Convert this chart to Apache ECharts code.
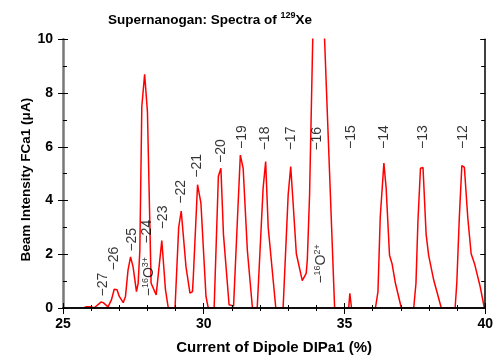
<!DOCTYPE html>
<html>
<head>
<meta charset="utf-8">
<script src="https://cdn.jsdelivr.net/npm/echarts@6/dist/echarts.min.js"></script>
<style>html,body{margin:0;padding:0;background:#fff}#c{width:496px;height:360px}</style>
</head>
<body>
<div id="c"></div>
<script>
// Dipole current (%) and beam intensity (uA)
var xs = [25.72,25.84,26.0,26.1,26.35,26.43,26.6,26.72,26.82,26.92,27.0,27.14,27.22,27.31,27.4,27.49,27.61,27.67,27.73,27.8,27.9,28.0,28.13,28.31,28.51,28.64,28.74,28.98,29.11,29.2,29.37,29.51,29.6,29.63,29.78,29.9,30.08,30.16,30.2,30.37,30.52,30.61,30.7,30.9,31.06,31.2,31.3,31.4,31.55,31.73,31.9,32.11,32.2,32.29,32.56,32.82,33.0,33.09,33.17,33.29,33.5,33.64,33.68,33.76,33.95,34.15,34.65,35.15,35.19,35.25,36.1,36.19,36.27,36.4,36.48,36.6,36.69,36.81,37.02,37.46,37.54,37.61,37.7,37.79,37.9,37.99,38.17,38.44,38.93,38.99,39.08,39.17,39.26,39.38,39.5,39.62,39.82,39.97];
var ys = [0,0.05,0.05,0,0.22,0.2,0.04,0.3,0.7,0.68,0.43,0.2,0.43,1.41,1.9,1.53,0.61,0.92,2.14,7.5,8.7,7.3,0.92,0.49,2.51,0.68,0,0,3.0,3.61,1.53,0.55,0.61,1.16,4.59,3.9,0.43,0,0,0,4.9,5.2,2.75,0.12,0.07,3.37,5.69,5.2,2.14,0,0,4.47,5.45,3.0,0,0,4.22,5.26,3.98,2.02,1.02,1.29,1.8,4.2,14,14,0,0,0.55,0,0,0.61,3.37,5.39,4.47,1.96,1.65,0.92,0,0,0.92,3.24,5.2,5.23,2.75,1.96,1.04,0,0,0.92,3.37,5.3,5.23,3.37,2.02,1.65,0.8,0];
// Peak annotations (charge states)
var labelTexts = ['−27','−26','−25','−{s|16}O{s|3+}','−24','−23','−22','−21','−20','−19','−18','−17','−16','−15','−14','−13','−12','−{s|16}O{s|2+}'];
var labelX = [26.42,26.83,27.46,28.06,28.0,28.54,29.19,29.78,30.61,31.38,32.18,33.09,34.03,35.22,36.4,37.81,39.2,34.17];
var labelY = [0.87,1.84,2.54,1.17,2.84,3.37,4.32,5.29,5.84,6.36,6.31,6.31,6.3,6.36,6.36,6.36,6.36,1.64];
var xTicks = [25,30,35,40];
var yTicks = [0,2,4,6,8,10];

var line = xs.map(function(x,i){return [x,ys[i]];});
var labels = labelX.map(function(x,i){return {value:[x,labelY[i]], name:labelTexts[i]};});

var font = 'Liberation Sans, Arial, sans-serif';
var chart = echarts.init(document.getElementById('c'));
var blackLine = {show:true, lineStyle:{color:'#000', width:1.5}};
chart.setOption({
  animation:false,
  title:{
    text:'Supernanogan: Spectra of {s|129}Xe',
    left:205, top:6, textAlign:'center',
    textStyle:{fontFamily:font, fontSize:13.5, fontWeight:'bold', color:'#000',
      rich:{s:{fontSize:9, fontWeight:'bold', fontFamily:font, color:'#000', padding:[0,0,9,0]}}}
  },
  grid:{left:63, right:9.3, top:39.3, bottom:48.3},
  xAxis:[
    {type:'value', min:25, max:40, interval:5, position:'bottom', z:10,
     axisLine:blackLine,
     axisTick:{show:true, inside:true, length:5, lineStyle:{color:'#000', width:1}},
     minorTick:{show:true, splitNumber:5, length:3, lineStyle:{color:'#000', width:1}},
     splitLine:{show:false},
     axisLabel:{fontFamily:font, fontSize:14, fontWeight:'bold', color:'#000', margin:9,
       formatter:function(v){return xTicks.indexOf(v)>=0 ? String(v) : '';}},
     name:'Current of Dipole DIPa1 (%)', nameLocation:'middle', nameGap:32,
     nameTextStyle:{fontFamily:font, fontSize:15, fontWeight:'bold', color:'#000'}},
    {type:'value', min:25, max:40, interval:5, position:'bottom', z:10,
     axisLine:{show:false}, axisTick:{show:true, inside:false, length:4, lineStyle:{color:'#000', width:1}},
     axisLabel:{show:false}, splitLine:{show:false}},
    {type:'value', min:25, max:40, interval:5, position:'top', z:10,
     axisLine:blackLine,
     axisTick:{show:true, inside:true, length:6, lineStyle:{color:'#000', width:1}},
     minorTick:{show:true, splitNumber:5, length:3, lineStyle:{color:'#000', width:1}},
     axisLabel:{show:false}, splitLine:{show:false}}
  ],
  yAxis:[
    {type:'value', min:0, max:10, interval:2, position:'left', z:10,
     axisLine:{show:true, lineStyle:{color:'#777', width:2.5}},
     axisTick:{show:true, inside:true, length:5, lineStyle:{color:'#000', width:1}},
     minorTick:{show:true, splitNumber:2, length:4, lineStyle:{color:'#000', width:1}},
     splitLine:{show:false},
     axisLabel:{fontFamily:font, fontSize:14, fontWeight:'bold', color:'#000', margin:10,
       formatter:function(v){return yTicks.indexOf(v)>=0 ? String(v) : '';}},
     name:'Beam Intensity FCa1 (μA)', nameLocation:'middle', nameGap:30, nameMoveOverlap:false,
     nameTextStyle:{fontFamily:font, fontSize:13.5, fontWeight:'bold', color:'#000', padding:[0,12,0,0]}},
    {type:'value', min:0, max:10, interval:2, position:'left', z:10,
     axisLine:{show:false}, axisTick:{show:true, inside:false, length:5, lineStyle:{color:'#000', width:1}},
     axisLabel:{show:false}, splitLine:{show:false}},
    {type:'value', min:0, max:10, interval:2, position:'right', z:10,
     axisLine:blackLine,
     axisTick:{show:true, inside:true, length:5, lineStyle:{color:'#000', width:1}},
     minorTick:{show:true, splitNumber:2, length:4, lineStyle:{color:'#000', width:1}},
     axisLabel:{show:false}, splitLine:{show:false}}
  ],
  series:[
    {type:'line', data:line, showSymbol:false, symbol:'none', clip:true,
     lineStyle:{color:'#ff0000', width:1.5}, itemStyle:{color:'#ff0000'}, z:2},
    {type:'scatter', data:labels, symbolSize:0, z:5, silent:true,
     label:{show:true, position:'inside', rotate:90, color:'#000',
       fontFamily:font, fontSize:14,
       formatter:function(p){return p.name;},
       rich:{s:{fontSize:9, fontFamily:font, color:'#000', padding:[0,0,8,0]}}}}
  ]
});
</script>
</body>
</html>
